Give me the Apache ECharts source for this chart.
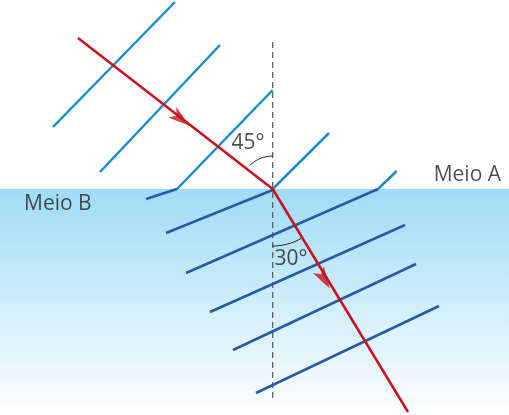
<!DOCTYPE html>
<html><head><meta charset="utf-8">
<script src="https://cdn.jsdelivr.net/npm/echarts@6/dist/echarts.min.js"></script>
<style>html,body{margin:0;padding:0;background:#fff}#c{width:509px;height:415px}</style>
</head><body><div id="c"></div>
<script>
const interfaceY = 189;
const normalX = 272.7;
const normalLine = [[272.7, 42], [272.7, 400]];
const rayIncident = [[78, 38], [272.7, 189]];
const rayRefracted = [[272.7, 189], [408, 412]];
const arrows = [[181, 119, 37.8], [324, 279, 58.8]];
const wavesA = [
  [[53, 127], [175, 2]],
  [[100, 172], [220, 45]],
  [[177, 189], [272.7, 90]],
  [[272.7, 189], [329, 133]],
  [[378, 189], [396.7, 171]]
];
const wavesB = [
  [[146, 199], [177, 189]],
  [[166, 233], [272.7, 190]],
  [[186, 273], [378, 189]],
  [[210, 312], [405, 225]],
  [[233, 350], [416, 264]],
  [[256, 393], [439, 306]]
];
const angleLabels = [['45°', 248, 143], ['30°', 291, 259]];
const mediumLabels = [['Meio A', 501, 175, 'right'], ['Meio B', 24, 204, 'left']];
const arcs = [{r: 33, from: 0, to: 45, up: true}, {r: 57, from: 0, to: 30, up: false}];

function arcPts(a) {
  const pts = [];
  for (let d = a.from; d <= a.to; d += 1) {
    const t = d * Math.PI / 180;
    const dx = (a.up ? -1 : 1) * a.r * Math.sin(t);
    const dy = (a.up ? -1 : 1) * a.r * Math.cos(t);
    pts.push([normalX + dx, interfaceY + dy]);
  }
  return pts;
}
const seg = (data, color, width, type, z) => ({
  type: 'line', data, symbol: 'none', silent: true, z: z || 2,
  lineStyle: {color, width, type: type || 'solid', cap: 'butt'}
});
const series = [];
series.push({type: 'line', data: [], markArea: {silent: true, itemStyle: {color: {type: 'linear', x: 0, y: 0, x2: 0, y2: 1,
  colorStops: [{offset: 0, color: '#9fdcf6'}, {offset: 1, color: '#ffffff'}]}},
  data: [[{coord: [0, interfaceY]}, {coord: [509, 415]}]]}});
series.push(seg(normalLine, '#555', 1.2, [6, 4], 1));
wavesA.forEach(w => series.push(seg(w, '#1a8ccc', 2.5)));
wavesB.forEach(w => series.push(seg(w, '#2a5aa6', 2.5)));
arcs.forEach(a => series.push(seg(arcPts(a), '#231f20', 1, 'solid')));
series.push(seg(rayIncident, '#c8101e', 2.5, 'solid', 5));
series.push(seg(rayRefracted, '#c8101e', 2.5, 'solid', 5));
series.push({type: 'scatter', z: 6, silent: true,
  data: arrows.map(a => ({value: [a[0], a[1]], symbolRotate: -(90 + a[2])})),
  symbol: 'path://M0,0 L6,16 L0,12 L-6,16 Z', symbolSize: [13, 22], itemStyle: {color: '#c8101e'}});
const labels = angleLabels.map(l => ({value: [l[1], l[2]], label: {formatter: l[0], align: 'center'}}))
  .concat(mediumLabels.map(l => ({value: [l[1], l[2]], label: {formatter: l[0], align: l[3]}})));
series.push({type: 'scatter', symbolSize: 0, silent: true, z: 7, data: labels,
  label: {show: true, position: 'inside', color: '#231f20', fontSize: 21, fontFamily: 'Open Sans', verticalAlign: 'middle'}});

const chart = echarts.init(document.getElementById('c'));
chart.setOption({
  animation: false,
  grid: {left: 0, right: 0, top: 0, bottom: 0},
  xAxis: {type: 'value', min: 0, max: 509, show: false},
  yAxis: {type: 'value', min: 0, max: 415, inverse: true, show: false},
  series
});
</script></body></html>
